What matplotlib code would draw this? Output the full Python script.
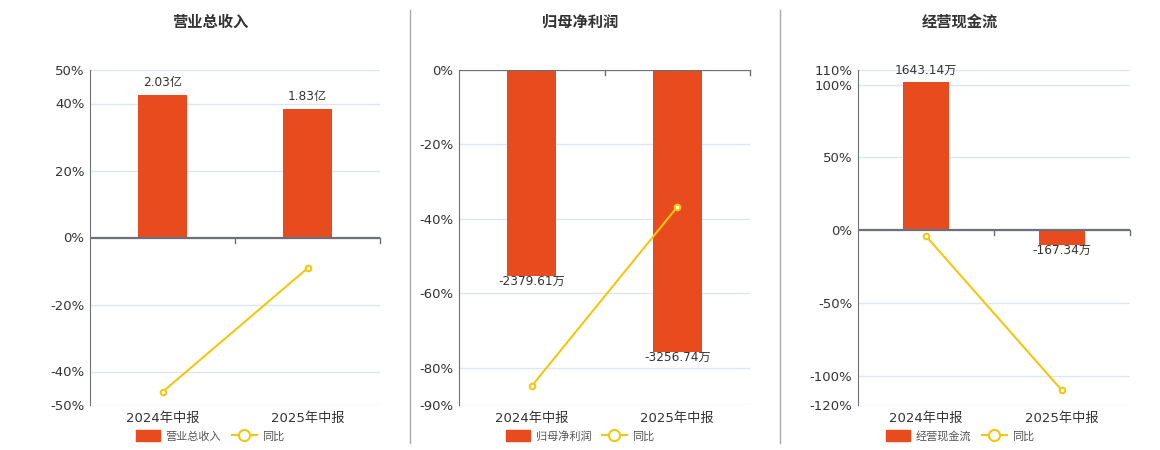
import matplotlib
matplotlib.use("Agg")
import matplotlib.pyplot as plt
from matplotlib.lines import Line2D

plt.rcParams['font.family'] = ['DejaVu Sans', 'Noto Sans CJK SC']
plt.rcParams['axes.unicode_minus'] = False

periods = ['2024年中报', '2025年中报']

titles = ['营业总收入', '归母净利润', '经营现金流']
units = ['亿', '万', '万']

revenue = [2.03, 1.83]
revenue_yoy = [-46.1, -9.2]

profit = [-2379.61, -3256.74]
profit_yoy = [-84.9, -36.8]

cash = [1643.14, -167.34]
cash_yoy = [-4.1, -110.0]

bar_values = [revenue, profit, cash]
yoy_values = [revenue_yoy, profit_yoy, cash_yoy]

# percent axis ticks / limits per panel
pct_ticks = [[-50, -40, -20, 0, 20, 40, 50],
             [-90, -80, -60, -40, -20, 0],
             [-120, -100, -50, 0, 50, 100, 110]]
pct_lim = [(-50, 50), (-90, 0), (-120, 110)]
# where the first bar ends on the percent scale (hidden bar axis alignment)
first_bar_pct = [42.6, -55.4, 101.6]

BAR = '#E84C1E'
LINE = '#F2C80F'
AXIS = '#6E7079'
GRID = '#E0E6F1'
TEXT = '#333333'

W, H = 1160, 450
fig = plt.figure(figsize=(W / 100, H / 100), dpi=100)

# axes boxes in pixels: left, right
boxes = [(90, 380), (459, 750), (858, 1130)]
title_x = [210, 580, 960]
top_px, bot_px = 70, 405

for i in range(3):
    l, r = boxes[i]
    rect = [l / W, 1 - bot_px / H, (r - l) / W, (bot_px - top_px) / H]
    ax = fig.add_axes(rect)
    lo, hi = pct_lim[i]
    ax.set_ylim(lo, hi)
    ax.set_xlim(-0.5, 1.5)
    ax.set_yticks(pct_ticks[i])
    ax.set_yticklabels([f'{t}%' for t in pct_ticks[i]])
    ax.yaxis.grid(True, color=GRID, lw=1)
    ax.set_axisbelow(True)
    for s in ['top', 'right', 'bottom']:
        ax.spines[s].set_visible(False)
    ax.spines['left'].set_color(AXIS)
    ax.tick_params(axis='y', length=0, pad=4, labelsize=9.5, labelcolor=TEXT)
    ax.set_xticks([0, 1])
    ax.set_xticklabels(periods)
    ax.tick_params(axis='x', length=0, pad=5, labelsize=9.5, labelcolor=TEXT)

    # hidden bar axis aligned at zero
    k = bar_values[i][0] / first_bar_pct[i]
    axb = ax.twinx()
    axb.set_ylim(lo * k, hi * k)
    axb.set_xlim(-0.5, 1.5)
    axb.axis('off')
    axb.bar([0, 1], bar_values[i], width=0.34, color=BAR, zorder=2)
    for x, v in zip([0, 1], bar_values[i]):
        if v >= 0:
            axb.annotate(f'{v:.2f}{units[i]}', (x, v), xytext=(0, 4),
                         textcoords='offset points', ha='center', va='bottom',
                         fontsize=8.7, color=TEXT)
        else:
            axb.annotate(f'{v:.2f}{units[i]}', (x, v), xytext=(0, 1),
                         textcoords='offset points', ha='center', va='top',
                         fontsize=8.7, color=TEXT)

    # line axis on top
    axl = ax.twinx()
    axl.set_ylim(lo, hi)
    axl.set_xlim(-0.5, 1.5)
    axl.axis('off')
    axl.axhline(0, color=AXIS, lw=1.6, zorder=1)
    tick_len = (hi - lo) / (bot_px - top_px) * 5
    for xb in [0.5, 1.5]:
        axl.plot([xb, xb], [0, -tick_len], color=AXIS, lw=1, zorder=1,
                 clip_on=False)
    axl.plot([0, 1], yoy_values[i], color=LINE, lw=1.5, marker='o',
             markersize=4, markerfacecolor='white', markeredgecolor=LINE,
             markeredgewidth=1.5, zorder=3)

    fig.text(title_x[i] / W, 1 - 22 / H, titles[i], ha='center', va='center',
             fontsize=11, fontweight='bold', color=TEXT)

    handles = [plt.Rectangle((0, 0), 1, 1, color=BAR),
               Line2D([], [], color=LINE, lw=1.5, marker='o', markersize=8,
                      markerfacecolor='white', markeredgecolor=LINE,
                      markeredgewidth=1.5)]
    fig.legend(handles, [titles[i], '同比'], loc='center',
               bbox_to_anchor=(title_x[i] / W, 1 - 436 / H), ncol=2,
               frameon=False, fontsize=8, handlelength=2.2, handleheight=1.1,
               handletextpad=0.5, columnspacing=1.0, labelcolor='#555555')

for xs in [410, 780]:
    fig.add_artist(Line2D([xs / W, xs / W], [1 - 443 / H, 1 - 10 / H],
                          color='#AAAAAA', lw=1, transform=fig.transFigure))

fig.savefig('out.png', dpi=100)
